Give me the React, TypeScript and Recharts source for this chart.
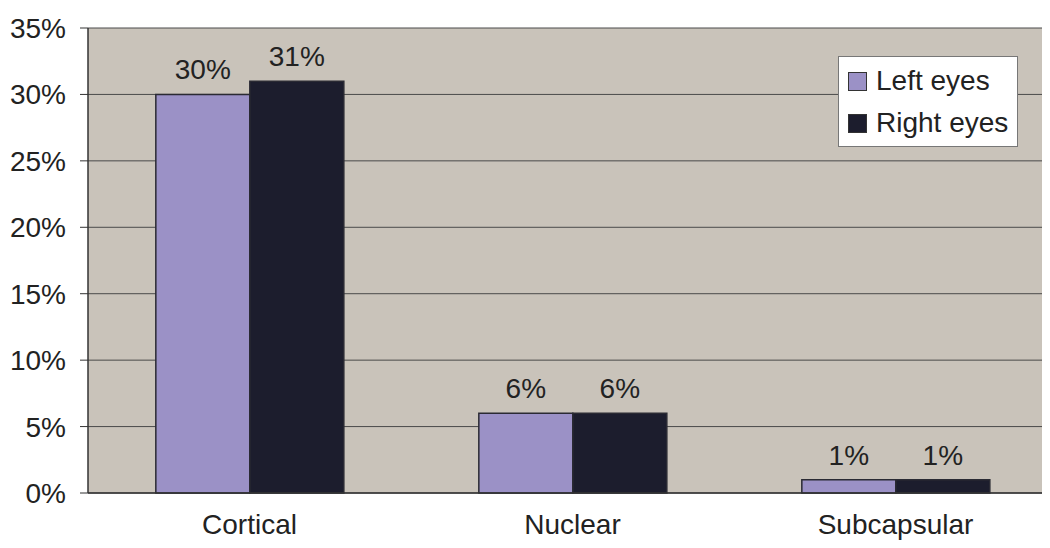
import { Bar, BarChart, CartesianGrid, LabelList, XAxis, YAxis } from "recharts"

const categories = ["Cortical", "Nuclear", "Subcapsular"]
const leftEyes = [30, 6, 1]
const rightEyes = [31, 6, 1]
const yTicks = [0, 5, 10, 15, 20, 25, 30, 35]

const LEFT = "#9b91c6"
const RIGHT = "#1c1d2d"
const FONT = "'Liberation Sans', Arial, sans-serif"

const data = categories.map((name, i) => ({
  name,
  left: leftEyes[i],
  right: rightEyes[i],
}))

const series = [
  { key: "left", label: "Left eyes", color: LEFT },
  { key: "right", label: "Right eyes", color: RIGHT },
]

const pct = (v: number) => `${v}%`

// legend sits inside the plot, top right, as a plain box over the chart
function LegendBox() {
  return (
    <div
      style={{
        position: "absolute",
        left: 838,
        top: 56,
        background: "#fff",
        border: "1px solid #777",
        width: 180,
        height: 91,
        boxSizing: "border-box",
        padding: "3px 0 0 9px",
        fontFamily: FONT,
        fontSize: 28,
        color: "#222",
      }}
    >
      {series.map((s) => (
        <div key={s.key} style={{ display: "flex", alignItems: "center", height: 42 }}>
          <span
            style={{
              display: "inline-block",
              width: 19,
              height: 19,
              background: s.color,
              border: "1px solid #333",
              boxSizing: "border-box",
              marginRight: 9,
            }}
          />
          <span>{s.label}</span>
        </div>
      ))}
    </div>
  )
}

export default function App() {
  return (
    <div
      style={{
        margin: -8,
        width: 1050,
        height: 548,
        overflow: "hidden",
        background: "#fff",
        position: "relative",
      }}
    >
      <BarChart
        width={1060}
        height={548}
        data={data}
        margin={{ top: 28, right: 3, left: 0, bottom: 0 }}
        barCategoryGap="21%"
        barGap={0}
      >
        <CartesianGrid vertical={false} fill="#c9c3ba" stroke="#4a4a4a" />
        <XAxis
          dataKey="name"
          height={55}
          tickLine={false}
          axisLine={{ stroke: "#333", strokeWidth: 1.5 }}
          tick={{ fontSize: 28, fill: "#222", fontFamily: FONT }}
          tickMargin={15}
        />
        <YAxis
          width={88}
          domain={[0, 35]}
          ticks={yTicks}
          tickFormatter={pct}
          tickSize={8}
          tickMargin={14}
          tickLine={{ stroke: "#333" }}
          axisLine={{ stroke: "#333", strokeWidth: 1.5 }}
          tick={{ fontSize: 28, fill: "#222", fontFamily: FONT }}
          interval={0}
        />
        {series.map((s) => (
          <Bar
            key={s.key}
            dataKey={s.key}
            fill={s.color}
            stroke="#2a2a33"
            strokeWidth={1.5}
            isAnimationActive={false}
          >
            <LabelList
              dataKey={s.key}
              position="top"
              offset={15}
              formatter={pct}
              style={{ fontSize: 28, fill: "#222", fontFamily: FONT }}
            />
          </Bar>
        ))}
      </BarChart>
      <LegendBox />
    </div>
  )
}
